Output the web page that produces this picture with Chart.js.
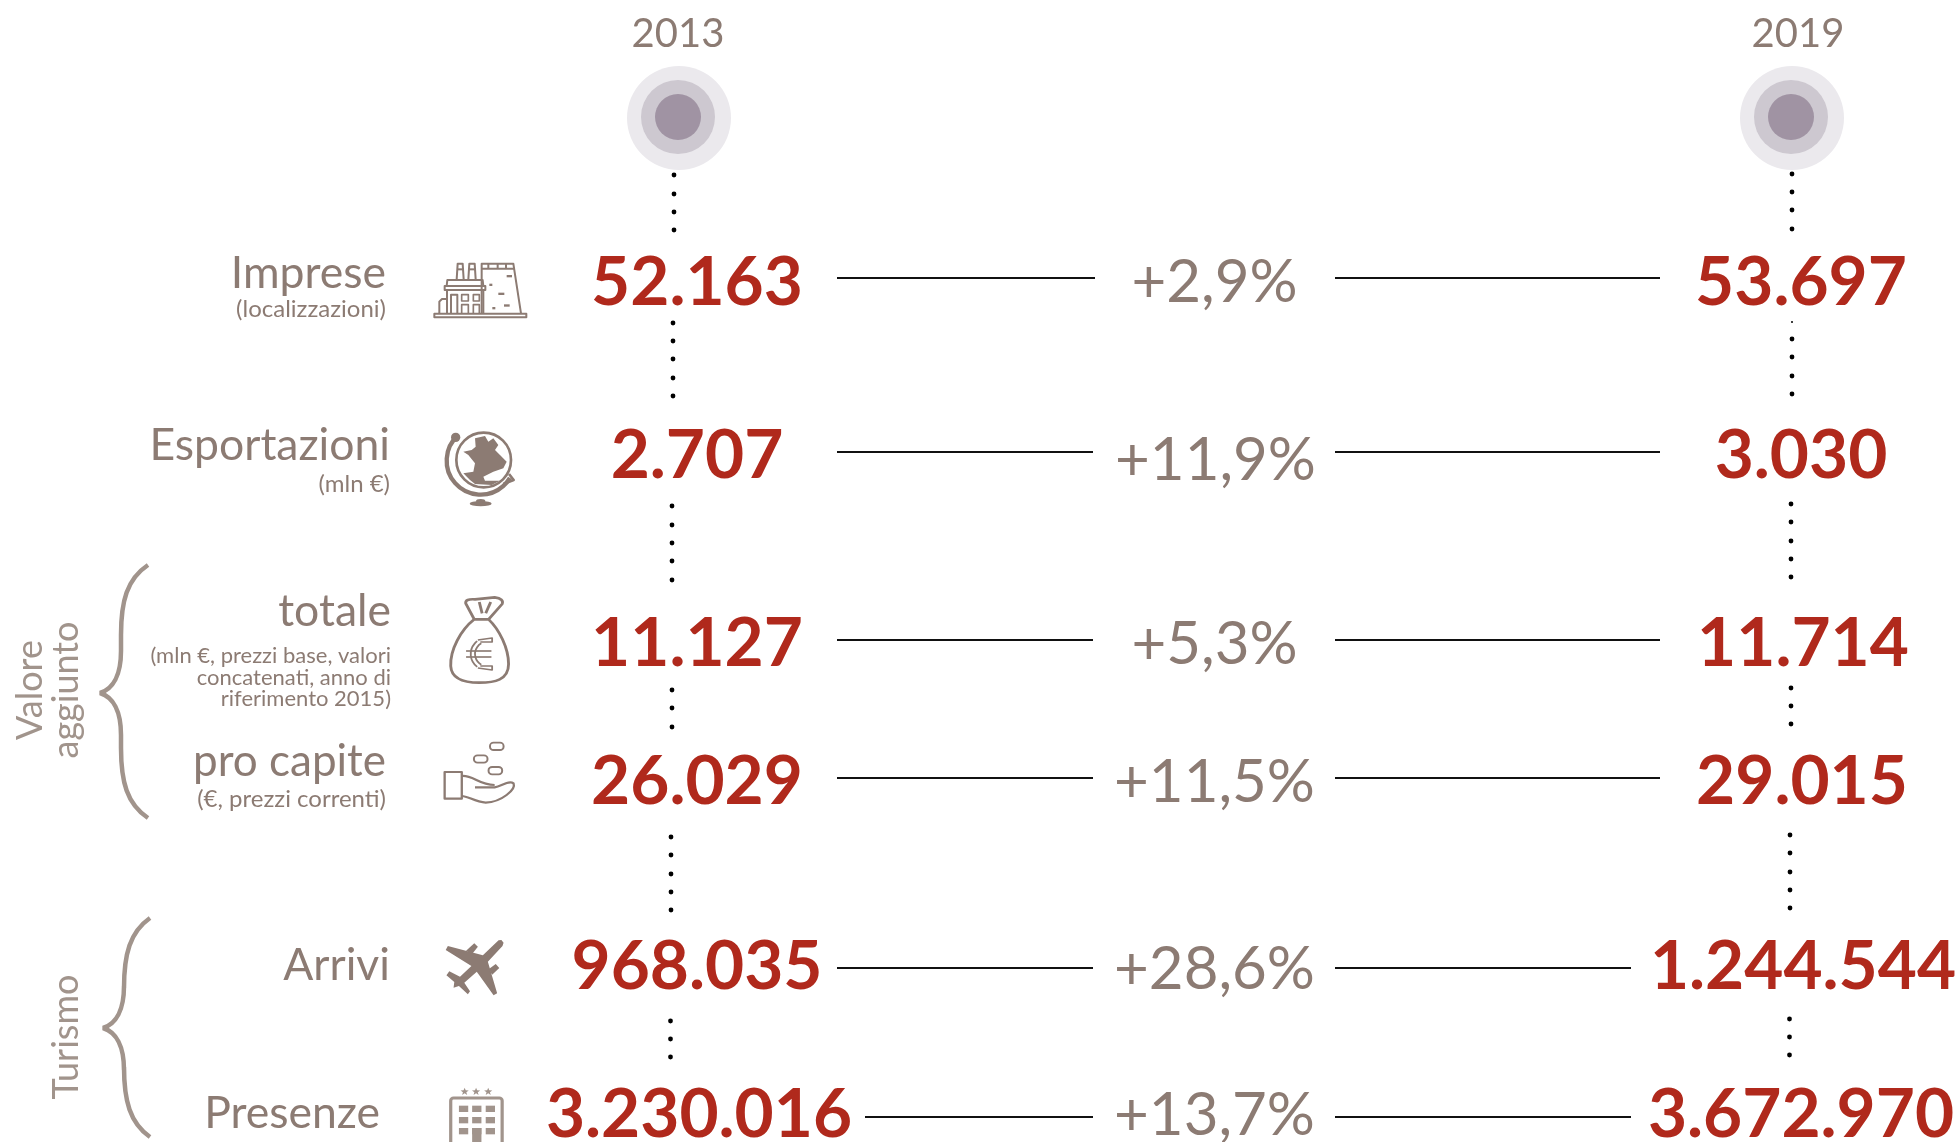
<!DOCTYPE html>
<html lang="it">
<head>
<meta charset="utf-8">
<title>Imprese, esportazioni, valore aggiunto e turismo 2013-2019</title>
<script src="https://cdn.jsdelivr.net/npm/chart.js@4/dist/chart.umd.min.js"></script>
<style>
  html, body { margin: 0; padding: 0; background: #fff; }
  canvas { display: block; }
</style>
</head>
<body>
<canvas id="chart" width="1959" height="1142"></canvas>
<script>
// Data
const years = ['2013', '2019'];
const metrics = ['Imprese', 'Esportazioni', 'totale', 'pro capite', 'Arrivi', 'Presenze'];
const notes = [
  ['(localizzazioni)'],
  ['(mln €)'],
  ['(mln €, prezzi base, valori', 'concatenati, anno di', 'riferimento 2015)'],
  ['(€, prezzi correnti)'],
  [],
  [],
];
const values2013 = [52163, 2707, 11127, 26029, 968035, 3230016];
const values2019 = [53697, 3030, 11714, 29015, 1244544, 3672970];
const changes = [2.9, 11.9, 5.3, 11.5, 28.6, 13.7];

// Layout, in canvas units (the axes run 0-1959 and 0-1142)
const rowBaseline = [305, 478, 666, 804, 989, 1137];
const changeBaseline = [302, 480, 664, 802, 989, 1135];
const changeX = [1214.5, 1215.5, 1214.5, 1214.5, 1214.5, 1214.5];
const ruleY = [278, 452, 640, 778, 968, 1117];
const ruleLeft = [[837, 1095], [837, 1093], [837, 1093], [837, 1093], [837, 1093], [865, 1093]];
const ruleRight = [[1335, 1660], [1335, 1660], [1335, 1660], [1335, 1660], [1335, 1631], [1335, 1631]];
const numberX2013 = [697, 697, 697, 697, 697, 699];
const numberX2019 = [1801, 1801, 1803, 1802, 1803, 1801];
const metricRight = [386, 390, 391, 386, 390, 380];
const metricBaseline = [288, 460, 626, 776, 980, 1128];
const metricFont = [44.5, 44.5, 44.5, 44, 44.5, 44.5];
const noteFont = [24, 24, 22, 24, 0, 0];
const noteBaselines = [[317], [492], [663, 685, 706], [807], [], []];
const dots2013 = [
  [674, 175], [674, 194], [674, 212], [674, 230],
  [673, 323], [673, 341], [673, 359], [673, 378], [673, 396],
  [672, 506], [672, 525], [672, 543], [672, 561], [672, 580],
  [672, 690], [672, 708], [672, 727],
  [671, 837], [671, 855], [671, 874], [671, 892], [671, 910],
  [670.5, 1021], [670.5, 1039], [670.5, 1057],
];
const dots2019 = [
  [1792, 174], [1792, 192], [1792, 210], [1792, 229],
  [1792, 339], [1792, 357], [1792, 376], [1792, 394],
  [1791, 504], [1791, 522], [1791, 541], [1791, 559], [1791, 577],
  [1791, 688], [1791, 706], [1791, 724],
  [1790, 835], [1790, 853], [1790, 872], [1790, 890], [1790, 908],
  [1789.5, 1019], [1789.5, 1037], [1789.5, 1055],
];

const BROWN = '#8c7b73';
const BRACE = '#a1948c';
const RED = '#b0291c';

function thousands(n) {
  return String(n).replace(/\B(?=(\d{3})+$)/g, '.');
}

function changeLabel(v) {
  return '+' + v.toFixed(1).replace('.', ',') + '%';
}

function ruleDataset(y, range) {
  return {
    type: 'line',
    data: [{ x: range[0], y }, { x: range[1], y }],
    borderColor: '#111',
    borderWidth: 2,
    pointRadius: 0,
    order: 5,
  };
}

function dotDataset(points, radius) {
  return {
    data: points.map((p) => ({ x: p[0], y: p[1] })),
    backgroundColor: '#000',
    borderWidth: 0,
    pointRadius: radius,
    order: 4,
  };
}

function circleDataset(points, radius, color, order) {
  return {
    data: points.map((p) => ({ x: p[0], y: p[1] })),
    backgroundColor: color,
    borderWidth: 0,
    pointRadius: radius,
    order,
  };
}

function text(ctx, str, x, y, font, color, align) {
  ctx.font = font;
  ctx.fillStyle = color;
  ctx.textAlign = align || 'left';
  ctx.textBaseline = 'alphabetic';
  ctx.fillText(str, x, y);
}

function rotatedText(ctx, str, x, y, font, color) {
  ctx.save();
  ctx.translate(x, y);
  ctx.rotate(-Math.PI / 2);
  text(ctx, str, 0, 0, font, color, 'center');
  ctx.restore();
}

function brace(ctx, tipX, tipY, stemX, endX, top, bottom) {
  ctx.strokeStyle = BRACE;
  ctx.lineWidth = 4.5;
  ctx.lineCap = 'butt';
  ctx.lineJoin = 'bevel';
  ctx.beginPath();
  ctx.moveTo(endX, top);
  ctx.bezierCurveTo(stemX + 6, top + 14, stemX, top + 36, stemX, top + 70);
  ctx.lineTo(stemX, tipY - 42);
  ctx.bezierCurveTo(stemX, tipY - 18, stemX - 8, tipY - 4, tipX, tipY);
  ctx.bezierCurveTo(stemX - 8, tipY + 4, stemX, tipY + 18, stemX, tipY + 42);
  ctx.lineTo(stemX, bottom - 70);
  ctx.bezierCurveTo(stemX, bottom - 36, stemX + 6, bottom - 14, endX, bottom);
  ctx.stroke();
}

// Icons are drawn in the coordinates of a zoomed crop, then scaled down
function withIcon(ctx, ox, oy, sx, sy, draw) {
  ctx.save();
  ctx.translate(ox, oy);
  ctx.scale(1 / sx, 1 / sy);
  ctx.strokeStyle = BROWN;
  ctx.fillStyle = BROWN;
  ctx.lineJoin = 'round';
  draw();
  ctx.restore();
}

function polyline(ctx, pts, close) {
  ctx.beginPath();
  pts.forEach((p, i) => (i ? ctx.lineTo(p[0], p[1]) : ctx.moveTo(p[0], p[1])));
  if (close) ctx.closePath();
}

function drawFactory(ctx) {
  withIcon(ctx, 400, 0, 3, 3, () => {
    ctx.lineWidth = 6;
    ctx.strokeRect(103, 941, 276, 11);
    polyline(ctx, [[245, 940], [245, 791], [340, 791], [363, 940]]);
    ctx.stroke();
    polyline(ctx, [[245, 806], [343, 806]]);
    ctx.stroke();
    [265, 293, 318].forEach((x) => {
      polyline(ctx, [[x, 791], [x, 806]]);
      ctx.stroke();
    });
    [[170, 191], [205, 227]].forEach((s) => {
      polyline(ctx, [[s[0], 838], [s[0] + 3, 791], [s[1] - 3, 791], [s[1], 838]]);
      ctx.stroke();
      polyline(ctx, [[s[0] + 2, 808], [s[1] - 2, 808]]);
      ctx.stroke();
    });
    polyline(ctx, [[140, 858], [142, 840], [248, 840], [250, 858]]);
    ctx.stroke();
    ctx.strokeRect(134, 858, 122, 12);
    polyline(ctx, [[141, 940], [141, 870]]);
    ctx.stroke();
    polyline(ctx, [[250, 940], [250, 870]]);
    ctx.stroke();
    polyline(ctx, [[118, 940], [118, 905], [126, 897], [141, 897]]);
    ctx.stroke();
    polyline(ctx, [[153, 940], [153, 884], [172, 884], [172, 940]]);
    ctx.stroke();
    ctx.lineWidth = 5;
    ctx.strokeRect(185, 884, 20, 19);
    ctx.strokeRect(220, 884, 18, 19);
    polyline(ctx, [[185, 940], [185, 914], [205, 914], [205, 940]]);
    ctx.stroke();
    polyline(ctx, [[220, 940], [220, 914], [238, 914], [238, 940]]);
    ctx.stroke();
    [[320, 825, 16], [268, 851, 9], [295, 878, 18], [277, 921, 9], [312, 913, 17]].forEach((d) => {
      ctx.fillRect(d[0], d[1], d[2], 7);
    });
  });
}

function drawGlobe(ctx) {
  withIcon(ctx, 435, 430, 3, 3, () => {
    ctx.lineWidth = 8;
    ctx.beginPath();
    ctx.arc(146, 90, 82, 0, Math.PI * 2);
    ctx.stroke();
    ctx.lineWidth = 13;
    ctx.beginPath();
    ctx.arc(137, 92, 102, Math.PI * 1.27, Math.PI * 0.17, true);
    ctx.stroke();
    ctx.lineWidth = 8;
    polyline(ctx, [[205, 162], [236, 150], [222, 132]]);
    ctx.stroke();
    ctx.beginPath();
    ctx.arc(62, 22, 14, 0, Math.PI * 2);
    ctx.fill();
    ctx.beginPath();
    ctx.ellipse(137, 221, 33, 8, 0, 0, Math.PI * 2);
    ctx.fill();
    ctx.beginPath();
    ctx.ellipse(137, 213, 14, 6, 0, 0, Math.PI * 2);
    ctx.fill();
    polyline(ctx, [
      [120, 25], [150, 18], [160, 35], [175, 25], [190, 45], [180, 60], [195, 75], [215, 95],
      [205, 115], [175, 125], [145, 140], [150, 152], [195, 152], [170, 165], [120, 162], [105, 150],
      [85, 130], [115, 125], [120, 100], [100, 75], [85, 65], [110, 60], [122, 50],
    ], true);
    ctx.fill();
  });
}

function drawBag(ctx) {
  withIcon(ctx, 0, 540, 2.8, 3, () => {
    ctx.lineWidth = 8;
    ctx.beginPath();
    ctx.moveTo(1328, 238);
    ctx.bezierCurveTo(1290, 270, 1260, 330, 1262, 378);
    ctx.bezierCurveTo(1264, 420, 1305, 428, 1342, 428);
    ctx.bezierCurveTo(1385, 428, 1424, 420, 1424, 372);
    ctx.bezierCurveTo(1424, 325, 1398, 268, 1368, 238);
    ctx.closePath();
    ctx.stroke();
    ctx.beginPath();
    ctx.moveTo(1328, 238);
    ctx.lineTo(1304, 190);
    ctx.quadraticCurveTo(1302, 176, 1330, 178);
    ctx.lineTo(1385, 172);
    ctx.quadraticCurveTo(1412, 176, 1406, 192);
    ctx.lineTo(1368, 238);
    ctx.stroke();
    polyline(ctx, [[1342, 186], [1350, 220]]);
    ctx.stroke();
    polyline(ctx, [[1374, 186], [1360, 220]]);
    ctx.stroke();
    ctx.lineWidth = 5;
    ctx.beginPath();
    ctx.arc(1368, 342, 50, Math.PI * 0.72, Math.PI * 1.28);
    ctx.stroke();
    ctx.beginPath();
    ctx.arc(1368, 342, 38, Math.PI * 0.68, Math.PI * 1.32);
    ctx.stroke();
    polyline(ctx, [[1338, 300], [1378, 294], [1378, 306], [1345, 306]]);
    ctx.stroke();
    polyline(ctx, [[1338, 384], [1378, 390], [1378, 378], [1345, 378]]);
    ctx.stroke();
    [[1305, 1376, 333], [1305, 1376, 351]].forEach((b) => {
      polyline(ctx, [[b[0], b[2]], [b[1], b[2]]]);
      ctx.stroke();
    });
  });
}

function drawHand(ctx) {
  withIcon(ctx, 0, 540, 2.8, 3, () => {
    ctx.lineWidth = 6.5;
    ctx.strokeRect(1245, 696, 48, 80);
    ctx.beginPath();
    ctx.moveTo(1293, 708);
    ctx.bezierCurveTo(1325, 705, 1340, 735, 1385, 735);
    ctx.moveTo(1330, 742);
    ctx.lineTo(1385, 742);
    ctx.bezierCurveTo(1405, 738, 1425, 720, 1438, 730);
    ctx.bezierCurveTo(1445, 748, 1405, 786, 1360, 788);
    ctx.bezierCurveTo(1330, 786, 1310, 768, 1293, 768);
    ctx.stroke();
    ctx.lineWidth = 5.5;
    [[1372, 608], [1327, 646], [1368, 681]].forEach((c) => {
      ctx.beginPath();
      ctx.roundRect(c[0], c[1], 38, 22, 10);
      ctx.stroke();
    });
  });
}

function drawPlane(ctx) {
  withIcon(ctx, 0, 880, 2.8, 3, () => {
    polyline(ctx, [
      [1396, 181], [1404, 180], [1410, 188], [1407, 198], [1366, 245], [1392, 340], [1382, 346],
      [1335, 275], [1300, 308], [1316, 334], [1310, 343], [1285, 318], [1270, 323], [1272, 306],
      [1250, 286], [1258, 274], [1288, 290], [1320, 258], [1248, 210], [1254, 198], [1352, 226],
    ], true);
    ctx.fill();
    polyline(ctx, [[1305, 212], [1328, 190], [1338, 200], [1322, 222]], true);
    ctx.fill();
    polyline(ctx, [[1368, 268], [1388, 252], [1398, 264], [1378, 284]], true);
    ctx.fill();
  });
}

function drawHotel(ctx) {
  withIcon(ctx, 0, 880, 2.8, 3, () => {
    ctx.strokeStyle = '#a1948c';
    ctx.fillStyle = '#a1948c';
    ctx.lineWidth = 9;
    ctx.beginPath();
    ctx.roundRect(1262, 654, 144, 160, 8);
    ctx.stroke();
    [1285, 1322, 1360].forEach((x) => {
      [677, 711, 744].forEach((y) => {
        ctx.fillRect(x, y, 26, 19);
      });
    });
    ctx.fillRect(1322, 744, 26, 50);
    [1301, 1333, 1367].forEach((x) => {
      const star = [];
      for (let i = 0; i < 10; i++) {
        const r = i % 2 ? 5 : 12;
        const a = -Math.PI / 2 + (i * Math.PI) / 5;
        star.push([x + r * Math.cos(a), 635 + r * Math.sin(a)]);
      }
      polyline(ctx, star, true);
      ctx.fill();
    });
  });
}

const labelsPlugin = {
  id: 'labels',
  afterDatasetsDraw(chart) {
    const { ctx } = chart;
    const px = (v) => chart.scales.x.getPixelForValue(v);
    const py = (v) => chart.scales.y.getPixelForValue(v);

    ctx.save();
    text(ctx, years[0], px(678), py(47), '40px Lato', BROWN, 'center');
    text(ctx, years[1], px(1798), py(47), '40px Lato', BROWN, 'center');

    metrics.forEach((name, i) => {
      text(ctx, name, px(metricRight[i]), py(metricBaseline[i]), metricFont[i] + 'px Lato', BROWN, 'right');
      notes[i].forEach((line, j) => {
        text(ctx, line, px(metricRight[i]), py(noteBaselines[i][j]), noteFont[i] + 'px Lato', BROWN, 'right');
      });
      text(ctx, thousands(values2013[i]), px(numberX2013[i]), py(rowBaseline[i]), 'bold 67.5px Lato', RED, 'center');
      text(ctx, thousands(values2019[i]), px(numberX2019[i]), py(rowBaseline[i]), 'bold 67.5px Lato', RED, 'center');
      text(ctx, changeLabel(changes[i]), px(changeX[i]), py(changeBaseline[i]), '60px Lato', BROWN, 'center');
    });

    rotatedText(ctx, 'Valore', px(42), py(690), '36px Lato', BRACE);
    rotatedText(ctx, 'aggiunto', px(78), py(690), '36px Lato', BRACE);
    rotatedText(ctx, 'Turismo', px(78), py(1037), '36px Lato', BRACE);
    brace(ctx, px(100), py(693), px(121), px(148), py(565), py(818));
    brace(ctx, px(103), py(1028), px(124), px(150), py(918), py(1137));

    drawFactory(ctx);
    drawGlobe(ctx);
    drawBag(ctx);
    drawHand(ctx);
    drawPlane(ctx);
    drawHotel(ctx);
    ctx.restore();
  },
};

const datasets = [
  circleDataset([[679, 118], [1792, 118]], 52, '#ebe9ed', 12),
  circleDataset([[678, 117], [1791, 117]], 37, '#cdc8d0', 11),
  circleDataset([[678, 117], [1791, 117]], 23, '#a093a3', 10),
  dotDataset(dots2013, 2.4),
  dotDataset(dots2019, 2.4),
  dotDataset([[1792, 322]], 1),
];
ruleY.forEach((y, i) => {
  datasets.push(ruleDataset(y, ruleLeft[i]));
  datasets.push(ruleDataset(y, ruleRight[i]));
});

new Chart(document.getElementById('chart').getContext('2d'), {
  type: 'scatter',
  data: { datasets },
  options: {
    responsive: false,
    animation: false,
    events: [],
    layout: { padding: 0, autoPadding: false },
    plugins: {
      legend: { display: false },
      tooltip: { enabled: false },
      title: { display: false },
    },
    scales: {
      x: { type: 'linear', min: 0, max: 1959, display: false },
      y: { type: 'linear', min: 0, max: 1142, reverse: true, display: false },
    },
  },
  plugins: [labelsPlugin],
});
</script>
</body>
</html>
